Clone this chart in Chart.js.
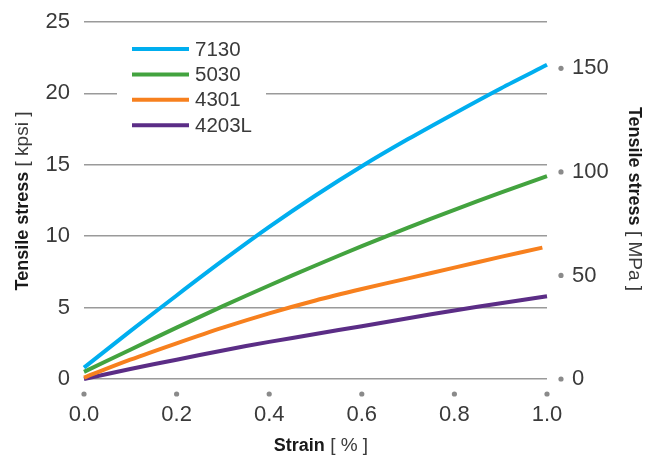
<!DOCTYPE html>
<html><head><meta charset="utf-8">
<script src="https://cdn.jsdelivr.net/npm/chart.js@4.4.1/dist/chart.umd.min.js"></script>
<style>html,body{margin:0;padding:0;background:#fff;overflow:hidden}#wrap{width:646px;height:458px}</style>
</head><body><div id="wrap"><canvas id="c" width="646" height="458"></canvas></div>
<script>
// ---- data (strain in %, stress in kpsi) ----
const strain     = [0, 0.1, 0.2, 0.3, 0.4, 0.5, 0.6, 0.7, 0.8, 0.9, 1.0];
const strain4301 = [0, 0.1, 0.2, 0.3, 0.4, 0.5, 0.6, 0.7, 0.8, 0.9, 0.99];
const s7130  = [0.8, 3.35, 5.85, 8.3, 10.65, 12.85, 14.9, 16.8, 18.6, 20.35, 22.0];
const s5030  = [0.5, 2.05, 3.6, 5.1, 6.55, 7.95, 9.3, 10.6, 11.85, 13.05, 14.2];
const s4301  = [0.1, 1.35, 2.5, 3.6, 4.6, 5.5, 6.3, 7.05, 7.8, 8.55, 9.2];
const s4203L = [0, 0.7, 1.35, 2.0, 2.6, 3.15, 3.7, 4.25, 4.8, 5.3, 5.8];
const seriesNames = ['7130', '5030', '4301', '4203L'];
const xTicks    = [0, 0.2, 0.4, 0.6, 0.8, 1.0];
const kpsiTicks = [0, 5, 10, 15, 20, 25];
const mpaTicks  = [0, 50, 100, 150];
const KPSI_TO_MPA = 6.89476;

const colors = ['#00aeef', '#43a33f', '#f7801e', '#5b2d86'];
const FONT = '"Liberation Sans", Arial, sans-serif';
const TXT = '#3a3a3a';

const pts = (xs, ys) => xs.map((x, i) => ({x, y: ys[i]}));
const dataSets = [pts(strain, s7130), pts(strain, s5030), pts(strain4301, s4301), pts(strain, s4203L)];

const extras = {
  id: 'extras',
  afterDraw(chart) {
    const ctx = chart.ctx;
    const xs = chart.scales.x, yr = chart.scales.yR;
    ctx.save();
    // tick dots
    ctx.fillStyle = '#8a8a8a';
    xTicks.forEach(v => { ctx.beginPath(); ctx.arc(xs.getPixelForValue(v), 394, 2.6, 0, Math.PI*2); ctx.fill(); });
    mpaTicks.forEach(v => { ctx.beginPath(); ctx.arc(561, yr.getPixelForValue(v), 2.6, 0, Math.PI*2); ctx.fill(); });
    // legend
    ctx.fillStyle = '#ffffff';
    ctx.fillRect(117, 34, 149, 106);
    chart.data.datasets.forEach((ds, i) => {
      const y = 49 + i*25.4;
      ctx.strokeStyle = ds.borderColor; ctx.lineWidth = 4; ctx.lineCap = 'butt';
      ctx.beginPath(); ctx.moveTo(132, y); ctx.lineTo(189, y); ctx.stroke();
      ctx.fillStyle = TXT; ctx.font = '20.5px ' + FONT; ctx.textBaseline = 'middle'; ctx.textAlign = 'left';
      ctx.fillText(ds.label, 195, y + 1);
    });
    // titles with mixed weight
    const mixed = (parts, cx, cy, rot) => {
      ctx.save(); ctx.translate(cx, cy); ctx.rotate(rot);
      ctx.textBaseline = 'alphabetic'; ctx.textAlign = 'left';
      let total = 0;
      parts.forEach(p => { ctx.font = p[1] + ' ' + p[3] + 'px ' + FONT; total += ctx.measureText(p[0]).width; });
      let x = -total/2;
      parts.forEach(p => { ctx.font = p[1] + ' ' + p[3] + 'px ' + FONT; ctx.fillStyle = p[2]; ctx.fillText(p[0], x, 0); x += ctx.measureText(p[0]).width; });
      ctx.restore();
    };
    mixed([['Tensile stress', 'bold', '#1a1a1a', 18], [' [ kpsi ]', 'normal', TXT, 19]], 28, 201, -Math.PI/2);
    mixed([['Tensile stress', 'bold', '#1a1a1a', 18], [' [ MPa ]', 'normal', TXT, 19]], 629, 199, Math.PI/2);
    mixed([['Strain', 'bold', '#1a1a1a', 18], [' [ % ]', 'normal', TXT, 19]], 321, 451, 0);
    ctx.restore();
  }
};

const noPadV = s => { s.paddingTop = 0; s.paddingBottom = 0; };

new Chart(document.getElementById('c'), {
  type: 'line',
  data: {
    datasets: seriesNames.map((n, i) => ({
      label: n, data: dataSets[i], borderColor: colors[i], backgroundColor: colors[i],
      borderWidth: 4, pointRadius: 0, fill: false, tension: 0.3,
      borderCapStyle: 'butt', clip: 6
    }))
  },
  options: {
    responsive: false, animation: false, devicePixelRatio: 1,
    layout: { padding: { top: 22, left: 0, right: 0, bottom: 0 } },
    plugins: { legend: { display: false }, tooltip: { enabled: false } },
    scales: {
      x: {
        type: 'linear', position: 'bottom', min: 0, max: 1,
        grid: { display: false, drawTicks: false }, border: { display: false },
        afterBuildTicks: s => { s.ticks = xTicks.map(v => ({value: v})); },
        afterFit: s => { s.height = 79; s.paddingLeft = 0; s.paddingRight = 0; },
        ticks: { padding: 23, color: TXT, font: { family: FONT, size: 22 }, callback: v => Number(v).toFixed(1), maxRotation: 0, autoSkip: false }
      },
      y: {
        type: 'linear', position: 'left', min: 0, max: 25,
        grid: { color: '#9a9a9a', lineWidth: 1.5, drawTicks: false }, border: { display: false },
        afterBuildTicks: s => { s.ticks = kpsiTicks.map(v => ({value: v})); },
        afterFit: s => { s.width = 84; noPadV(s); },
        ticks: { padding: 14, color: TXT, font: { family: FONT, size: 22 }, autoSkip: false }
      },
      yR: {
        type: 'linear', position: 'right', min: 0, max: 25 * KPSI_TO_MPA,
        grid: { display: false, drawTicks: false }, border: { display: false },
        afterBuildTicks: s => { s.ticks = mpaTicks.map(v => ({value: v})); },
        afterFit: s => { s.width = 99; noPadV(s); },
        ticks: { padding: 25, color: TXT, font: { family: FONT, size: 22 }, autoSkip: false }
      }
    }
  },
  plugins: [extras]
});
</script></body></html>
